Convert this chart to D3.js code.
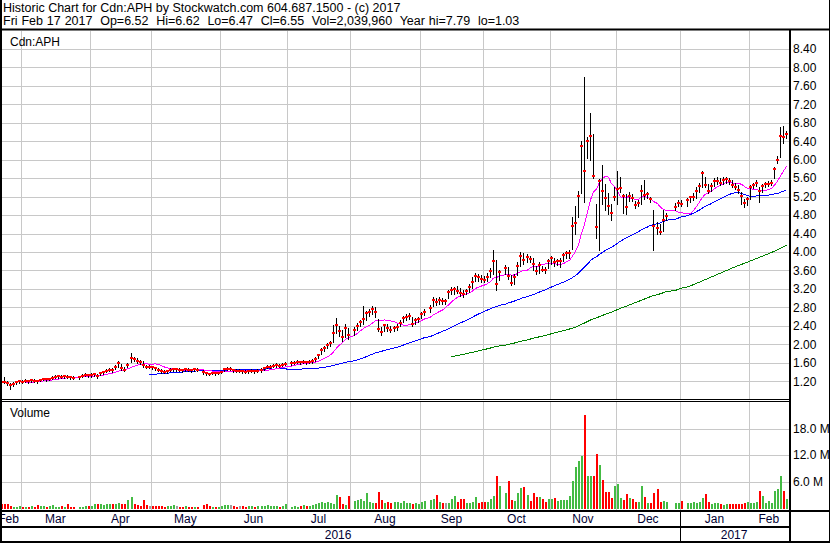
<!DOCTYPE html>
<html>
<head>
<meta charset="utf-8">
<script src="https://cdn.jsdelivr.net/npm/d3@7"></script>
<style>
body { margin: 0; background: #fff; }
svg text { font-family: "Liberation Sans", Arial, sans-serif; font-size: 12px; fill: #000; }
</style>
</head>
<body>
<div id="chart"></div>
<script>
// one value per weekday from Thu Feb 18 2016 to Fri Feb 17 2017, null = market closed
let closes = [
	1.22, 1.19, 1.18, 1.16, 1.12, 1.15, 1.18, 1.20,
	1.19, 1.21, 1.20, 1.22, 1.21, 1.20, 1.23, 1.25, 1.24, 1.25, 1.28, 1.30, 1.31, 1.30, 1.31, 1.30, 1.29, 1.28, null, 1.29, 1.32, 1.34, 1.33,
	1.34, 1.35, 1.31, 1.37, 1.40, 1.43, 1.45, 1.44, 1.52, 1.59, 1.48, 1.45, 1.56, 1.70, 1.68, 1.63, 1.62, 1.55, 1.52, 1.52, 1.50,
	1.48, 1.45, 1.42, 1.41, 1.42, 1.45, 1.46, 1.46, 1.45, 1.44, 1.46, 1.45, 1.44, 1.46, 1.45, null, 1.40, 1.37, 1.36, 1.38, 1.37, 1.38,
	1.40, 1.46, 1.47, 1.47, 1.44, 1.43, 1.43, 1.42, 1.41, 1.42, 1.43, 1.42, 1.43, 1.44, 1.48, 1.51, 1.52, 1.53, 1.55, 1.54, 1.56, 1.58,
	null, 1.59, 1.60, 1.62, 1.61, 1.62, 1.61, 1.62, 1.63, 1.68, 1.76, 1.87, 1.93, 1.98, 2.03, 2.25, 2.41, 2.29, 2.17, 2.36, 2.20,
	null, 2.32, 2.40, 2.49, 2.54, 2.67, 2.71, 2.76, 2.69, 2.34, 2.27, 2.41, 2.36, 2.32, 2.36, 2.38, 2.47, 2.56, 2.60, 2.61, 2.45, 2.52, 2.54,
	2.65, 2.71, null, 2.79, 2.96, 2.92, 2.96, 2.94, 2.94, 3.14, 3.18, 3.19, 3.16, 3.11, 3.10, 3.16, 3.24, 3.34, 3.47, 3.45, 3.42, 3.40,
	3.46, 3.59, 3.81, 3.30, 3.56, null, 3.65, 3.47, 3.33, 3.46, 3.70, 3.91, 3.82, 3.89, 3.84, 3.75, 3.59, 3.71, 3.62, 3.60, 3.80,
	3.86, 3.78, 3.80, 3.81, 3.93, 3.97, 3.98, 4.57, 4.63, 5.22, 6.30, 5.76, 6.41, 6.52, 5.65, 4.54, 5.54, 5.32, 5.17, 5.00, 4.85, 5.19,
	5.36, 5.39, 5.21, 4.98, 5.21, 5.18, 5.01, 5.06, 5.32, 5.23, 5.25, 5.14, 4.57, 4.51, 4.43, 4.69, 4.78, null, null, 4.98, 5.07, 5.05,
	null, 5.12, 5.19, 5.20, 5.31, 5.43, 5.72, 5.45, 5.32, 5.43, 5.53, 5.54, 5.50, 5.56, 5.57, 5.54, 5.45, 5.41, 5.34, 5.21, 5.06, 5.14,
	5.41, 5.46, 5.50, 5.32, 5.43, 5.47, 5.48, 5.50, 5.79, 6.00, 6.52, 6.50, 6.55,
];

let highs = [
	1.26, 1.27, 1.30, 1.20, 1.17, 1.18, 1.21, 1.23,
	1.22, 1.24, 1.23, 1.25, 1.24, 1.23, 1.26, 1.28, 1.27, 1.28, 1.31, 1.33, 1.34, 1.33, 1.34, 1.33, 1.32, 1.31, null, 1.31, 1.35, 1.37, 1.36,
	1.37, 1.38, 1.36, 1.40, 1.43, 1.46, 1.48, 1.48, 1.56, 1.63, 1.57, 1.50, 1.60, 1.81, 1.73, 1.70, 1.67, 1.63, 1.56, 1.55, 1.54,
	1.51, 1.49, 1.46, 1.44, 1.45, 1.48, 1.49, 1.49, 1.48, 1.47, 1.49, 1.48, 1.47, 1.49, 1.48, null, 1.44, 1.41, 1.39, 1.41, 1.40, 1.41,
	1.43, 1.49, 1.51, 1.50, 1.47, 1.46, 1.46, 1.45, 1.44, 1.45, 1.46, 1.45, 1.46, 1.48, 1.51, 1.55, 1.55, 1.57, 1.59, 1.57, 1.60, 1.62,
	null, 1.63, 1.64, 1.66, 1.65, 1.66, 1.65, 1.66, 1.68, 1.73, 1.80, 1.92, 1.97, 2.03, 2.08, 2.42, 2.58, 2.40, 2.32, 2.45, 2.36,
	null, 2.38, 2.46, 2.53, 2.84, 2.72, 2.76, 2.84, 2.80, 2.55, 2.38, 2.45, 2.43, 2.40, 2.40, 2.43, 2.52, 2.62, 2.66, 2.67, 2.60, 2.57, 2.60,
	2.70, 2.77, null, 2.85, 3.02, 3.00, 3.02, 3.00, 2.98, 3.18, 3.24, 3.24, 3.26, 3.22, 3.18, 3.20, 3.30, 3.45, 3.55, 3.52, 3.50, 3.48,
	3.55, 3.65, 4.04, 3.82, 3.62, null, 3.72, 3.68, 3.50, 3.52, 3.78, 4.00, 3.98, 3.95, 3.92, 3.86, 3.70, 3.78, 3.70, 3.68, 3.85,
	3.92, 3.88, 3.85, 3.86, 3.98, 4.02, 4.05, 4.75, 5.00, 5.32, 6.41, 7.79, 6.48, 7.02, 6.55, 5.05, 5.59, 5.88, 5.47, 5.27, 5.05, 5.41,
	5.75, 5.62, 5.25, 5.25, 5.30, 5.25, 5.10, 5.12, 5.45, 5.55, 5.30, 5.20, 4.91, 4.65, 4.60, 4.91, 4.85, null, null, 5.07, 5.12, 5.12,
	null, 5.18, 5.22, 5.28, 5.40, 5.50, 5.76, 5.62, 5.48, 5.50, 5.60, 5.62, 5.60, 5.62, 5.62, 5.61, 5.56, 5.50, 5.45, 5.30, 5.15, 5.20,
	5.45, 5.50, 5.55, 5.41, 5.48, 5.52, 5.54, 5.56, 5.85, 6.08, 6.71, 6.72, 6.62,
];

let lows = [
	1.18, 1.16, 1.17, 1.12, 1.03, 1.10, 1.14, 1.17,
	1.16, 1.18, 1.17, 1.19, 1.18, 1.17, 1.20, 1.22, 1.21, 1.22, 1.25, 1.27, 1.28, 1.27, 1.28, 1.27, 1.26, 1.25, null, 1.26, 1.29, 1.31, 1.30,
	1.30, 1.32, 1.28, 1.33, 1.36, 1.40, 1.42, 1.41, 1.47, 1.52, 1.45, 1.42, 1.50, 1.62, 1.63, 1.59, 1.58, 1.51, 1.49, 1.49, 1.47,
	1.44, 1.42, 1.39, 1.38, 1.39, 1.42, 1.43, 1.43, 1.42, 1.41, 1.43, 1.42, 1.41, 1.43, 1.42, null, 1.36, 1.33, 1.33, 1.35, 1.34, 1.35,
	1.37, 1.43, 1.44, 1.44, 1.41, 1.40, 1.40, 1.39, 1.38, 1.39, 1.40, 1.39, 1.40, 1.41, 1.45, 1.48, 1.49, 1.50, 1.52, 1.51, 1.53, 1.55,
	null, 1.56, 1.57, 1.59, 1.58, 1.59, 1.58, 1.59, 1.60, 1.64, 1.70, 1.80, 1.86, 1.92, 1.97, 2.05, 2.24, 2.18, 2.08, 2.15, 2.12,
	null, 2.20, 2.32, 2.40, 2.45, 2.52, 2.62, 2.65, 2.60, 2.28, 2.20, 2.28, 2.30, 2.26, 2.28, 2.32, 2.40, 2.48, 2.52, 2.55, 2.40, 2.45, 2.48,
	2.58, 2.64, null, 2.70, 2.82, 2.85, 2.88, 2.88, 2.88, 3.00, 3.08, 3.10, 3.12, 3.05, 3.02, 3.08, 3.14, 3.22, 3.38, 3.38, 3.36, 3.34,
	3.38, 3.45, 3.53, 3.18, 3.40, null, 3.52, 3.42, 3.28, 3.30, 3.50, 3.70, 3.75, 3.78, 3.78, 3.62, 3.52, 3.55, 3.58, 3.55, 3.65,
	3.75, 3.70, 3.72, 3.68, 3.80, 3.88, 3.88, 4.06, 4.40, 4.76, 5.27, 5.09, 6.03, 5.99, 5.60, 4.31, 4.05, 5.05, 4.91, 4.83, 4.69, 5.12,
	5.05, 5.30, 4.85, 4.83, 5.10, 5.10, 4.95, 5.00, 5.05, 5.15, 5.18, 5.08, 4.04, 4.40, 4.38, 4.45, 4.70, null, null, 4.90, 5.00, 5.00,
	null, 5.00, 5.08, 5.12, 5.18, 5.30, 5.40, 5.40, 5.28, 5.32, 5.42, 5.47, 5.45, 5.48, 5.50, 5.48, 5.40, 5.36, 5.28, 5.05, 4.98, 5.02,
	5.15, 5.38, 5.42, 5.09, 5.30, 5.40, 5.42, 5.44, 5.60, 5.92, 6.06, 6.35, 6.47,
];

// millions of shares
let volumes = [
	0.9, 0.9, 0.9, 0.9, 0.4, 0.3, 0.3, 0.4,
	0.3, 0.3, 0.3, 0.5, 0.3, 0.7, 0.4, 0.4, 0.3, 0.5, 0.6, 0.3, 0.3, 0.4, 0.3, 0.8, 0.3, 0.3, null, 0.2, 0.3, 0.4, 0.4,
	0.5, 0.8, 1.0, 0.9, 0.7, 0.9, 0.9, 0.8, 0.9, 1.1, 0.9, 0.8, 1.7, 2.6, 0.8, 0.6, 0.5, 1.9, 0.7, 0.5, 0.4,
	0.5, 0.4, 0.4, 0.3, 0.4, 0.4, 0.6, 0.4, 0.3, 0.3, 0.4, 0.3, 0.3, 0.3, 0.3, null, 0.6, 0.9, 0.4, 0.3, 0.3, 0.3,
	0.4, 0.6, 0.7, 0.6, 0.4, 0.3, 0.4, 0.5, 0.3, 0.4, 0.4, 0.3, 0.5, 0.4, 0.5, 0.6, 0.5, 0.4, 0.4, 0.3, 0.5, 0.9,
	null, 0.3, 0.5, 0.3, 0.4, 0.6, 0.5, 0.5, 0.7, 0.8, 1.1, 1.4, 1.1, 1.4, 1.2, 0.9, 2.9, 2.6, 0.9, 0.7, 2.8,
	null, 1.5, 1.8, 2.0, 1.6, 3.4, 1.3, 1.1, 1.2, 3.7, 1.7, 1.1, 1.3, 1.1, 1.4, 1.4, 1.2, 1.5, 1.2, 1.1, 1.0, 1.2, 1.0,
	1.3, 1.6, null, 1.9, 2.0, 2.9, 1.3, 1.1, 1.1, 1.1, 2.0, 2.8, 1.3, 2.0, 2.0, 1.1, 1.1, 1.4, 2.6, 1.1, 1.4, 1.4,
	1.4, 2.0, 2.7, 7.3, 4.9, null, 3.4, 6.2, 1.8, 1.6, 3.3, 4.5, 4.8, 2.9, 1.6, 3.4, 2.5, 2.5, 2.0, 1.4, 2.0,
	2.0, 2.3, 1.6, 1.8, 1.8, 1.8, 2.7, 6.2, 9.2, 10.7, 11.8, 21.1, 7.3, 7.3, 7.3, 12.2, 9.8, 6.3, 3.7, 3.7, 2.3, 5.0,
	5.4, 2.3, 1.8, 3.2, 2.3, 2.0, 1.4, 1.4, 4.9, 2.5, 1.1, 1.1, 3.4, 4.3, 1.4, 1.6, 1.4, null, null, 1.1, 1.1, 1.6,
	null, 1.1, 1.2, 1.4, 1.1, 1.4, 2.2, 3.2, 1.4, 0.9, 1.1, 1.1, 1.0, 0.7, 0.9, 0.9, 0.9, 0.9, 0.9, 1.0, 1.1, 1.4,
	1.2, 1.1, 1.3, 3.9, 2.7, 1.2, 1.6, 1.2, 3.8, 4.3, 7.3, 3.9, 2.04,
];

let priorClose = 1.25;
let priceTicks = [1.2, 1.6, 2.0, 2.4, 2.8, 3.2, 3.6, 4.0, 4.4, 4.8, 5.2, 5.6, 6.0, 6.4, 6.8, 7.2, 7.6, 8.0, 8.4];
let volumeTicks = [6, 12, 18];
let maPeriods = [146, 50, 10];
let maColors = ["#008000", "#0000ff", "#ff00ff"];

let title1 = "Historic Chart for Cdn:APH by Stockwatch.com 604.687.1500 - (c) 2017";
let title2 = "Fri Feb 17 2017  Op=6.52  Hi=6.62  Lo=6.47  Cl=6.55  Vol=2,039,960  Year hi=7.79  lo=1.03";

var w = 830,
	h = 543,
	plotRight = 789;

let days = [];
for (let d = new Date(2016, 1, 18); d <= new Date(2017, 1, 17); d.setDate(d.getDate() + 1)) {
	if (d.getDay() !== 0 && d.getDay() !== 6) days.push(new Date(d));
}

let x = d3.scaleBand().domain(d3.range(days.length)).range([-3.5, 788.5]);
let bw = x.bandwidth();
let cx = (i) => Math.floor(x(i) + bw / 2);

let yP = d3.scaleLinear().domain([1.2, 8.4]).range([381.3, 48.8]);
let yV = d3.scaleLinear().domain([0, 18]).range([508, 428.5]);

let svg = d3
	.select("#chart")
	.append("svg")
	.attr("width", w)
	.attr("height", h)
	.style("display", "block");

svg.append("rect").attr("width", w).attr("height", h).attr("fill", "#fff");

let defs = svg.append("defs");
defs.append("clipPath").attr("id", "clipP").append("rect").attr("x", 0).attr("y", 31).attr("width", plotRight).attr("height", 368);
defs.append("clipPath").attr("id", "clipV").append("rect").attr("x", 0).attr("y", 402).attr("width", plotRight).attr("height", 108);
defs.append("clipPath").attr("id", "clipX").append("rect").attr("x", 0).attr("y", 511).attr("width", plotRight).attr("height", 32);

// month edges: left edge of the first weekday, one slot earlier when the 1st falls on a weekend
let months = d3.timeMonth.range(new Date(2016, 1, 1), new Date(2017, 2, 1));
function monthEdge(m) {
	let i = days.findIndex((d) => d >= m);
	if (i < 0) return 788.5;
	let weekend = m.getDay() === 0 || m.getDay() === 6;
	return x(i) - (weekend ? bw : 0);
}
let edges = months.map(monthEdge);
edges.push(788.5);

// grid
let grid = svg.append("g").attr("stroke", "#c8c8c8").attr("stroke-width", 1);
grid.selectAll(".hp")
	.data(priceTicks)
	.enter()
	.append("line")
	.attr("x1", 0)
	.attr("x2", plotRight)
	.attr("y1", (d) => Math.round(yP(d)) + 0.5)
	.attr("y2", (d) => Math.round(yP(d)) + 0.5);
grid.selectAll(".hv")
	.data(volumeTicks)
	.enter()
	.append("line")
	.attr("x1", 0)
	.attr("x2", plotRight)
	.attr("y1", (d) => Math.round(yV(d)) + 0.5)
	.attr("y2", (d) => Math.round(yV(d)) + 0.5);
grid.selectAll(".vg")
	.data(edges.slice(1, -1))
	.enter()
	.append("path")
	.attr("d", (d) => {
		let xx = Math.round(d) + 0.5;
		return "M" + xx + ",31V399M" + xx + ",402V510";
	});

// moving averages
function movingAverage(n) {
	let out = [],
		win = [];
	closes.forEach((c, i) => {
		if (c == null) return;
		win.push(c);
		if (win.length > n) win.shift();
		if (win.length === n) out.push([i, d3.mean(win)]);
	});
	return out;
}

let priceG = svg.append("g").attr("clip-path", "url(#clipP)");
let line = d3
	.line()
	.x((d) => cx(d[0]) + 0.5)
	.y((d) => yP(d[1]));
maPeriods.forEach((n, k) => {
	priceG
		.append("path")
		.attr("d", line(movingAverage(n)))
		.attr("fill", "none")
		.attr("stroke", maColors[k])
		.attr("stroke-width", 1)
		.attr("shape-rendering", "crispEdges");
});

// price bars
let idx = d3.range(days.length).filter((i) => closes[i] != null);
priceG
	.selectAll(".hl")
	.data(idx)
	.enter()
	.append("line")
	.attr("x1", (i) => cx(i) + 0.5)
	.attr("x2", (i) => cx(i) + 0.5)
	.attr("y1", (i) => Math.round(yP(highs[i])))
	.attr("y2", (i) => Math.round(yP(lows[i])) + 1)
	.attr("stroke", "#000")
	.attr("stroke-width", 1);
priceG
	.selectAll(".cl")
	.data(idx)
	.enter()
	.append("rect")
	.attr("x", (i) => cx(i) - 1)
	.attr("y", (i) => Math.round(yP(closes[i])) - 1)
	.attr("width", 3)
	.attr("height", 2)
	.attr("fill", "#ff0000");

// volume
let prevClose = (i) => {
	for (let j = i - 1; j >= 0; j--) if (closes[j] != null) return closes[j];
	return priorClose;
};
let volG = svg.append("g").attr("clip-path", "url(#clipV)");
volG.selectAll("rect")
	.data(idx)
	.enter()
	.append("rect")
	.attr("x", (i) => cx(i))
	.attr("y", (i) => Math.round(yV(volumes[i])))
	.attr("width", 2)
	.attr("height", (i) => 509 - Math.round(yV(volumes[i])))
	.attr("fill", (i) => {
		let p = prevClose(i);
		return closes[i] > p ? "#44bb44" : closes[i] < p ? "#ff0000" : "#a0a0a0";
	});

// right axes
let axP = svg
	.append("g")
	.attr("transform", "translate(" + plotRight + ",0)")
	.call(d3.axisRight(yP).tickValues(priceTicks).tickFormat(d3.format(".2f")).tickSize(0).tickPadding(4));
let axV = svg
	.append("g")
	.attr("transform", "translate(" + plotRight + ",0)")
	.call(d3.axisRight(yV).tickValues(volumeTicks).tickFormat((d) => d.toFixed(1) + " M").tickSize(0).tickPadding(4));
[axP, axV].forEach((a) => {
	a.select(".domain").remove();
	a.selectAll("text").attr("font-family", null).attr("font-size", null).attr("fill", "#000033");
});

// month and year labels
let xG = svg.append("g").attr("clip-path", "url(#clipX)");
xG.selectAll(".mo")
	.data(months)
	.enter()
	.append("text")
	.attr("x", (m, k) => (edges[k] + edges[k + 1]) / 2)
	.attr("y", 523)
	.attr("text-anchor", "middle")
	.style("fill", "#000033")
	.text(d3.timeFormat("%b"));
let janEdge = edges[11];
let years = [
	["2016", -3.5, janEdge],
	["2017", janEdge, 788.5],
];
xG.selectAll(".yr")
	.data(years)
	.enter()
	.append("text")
	.attr("x", (d) => (d[1] + d[2]) / 2)
	.attr("y", 539)
	.attr("text-anchor", "middle")
	.style("fill", "#000033")
	.text((d) => d[0]);

// labels
svg.append("text").attr("x", 3).attr("y", 12).style("white-space", "pre").style("font-size", "12.5px").text(title1);
svg.append("text").attr("x", 3).attr("y", 25).style("white-space", "pre").style("font-size", "12.5px").style("word-spacing", "0.4px").text(title2);
svg.append("text").attr("x", 10).attr("y", 46).text("Cdn:APH");
svg.append("text").attr("x", 10).attr("y", 417).text("Volume");

// frame
let frame = svg.append("g").attr("stroke", "#000").attr("fill", "none");
frame.append("path").attr("d", "M0,29.5H830").attr("stroke-width", 2);
frame.append("path").attr("d", "M0,399.5H790M0,401.5H790").attr("stroke-width", 1);
frame.append("path").attr("d", "M0,511H830M0,527H790M0,542H830").attr("stroke-width", 2);
frame.append("path").attr("d", "M790,29V543").attr("stroke-width", 2);
frame.append("path").attr("d", "M1,0V543").attr("stroke-width", 2);
frame.append("path").attr("d", "M829.5,0V543").attr("stroke-width", 1);
frame.append("path").attr("d", "M" + (Math.round(janEdge) + 0.5) + ",511V543").attr("stroke-width", 1);
</script>
</body>
</html>
